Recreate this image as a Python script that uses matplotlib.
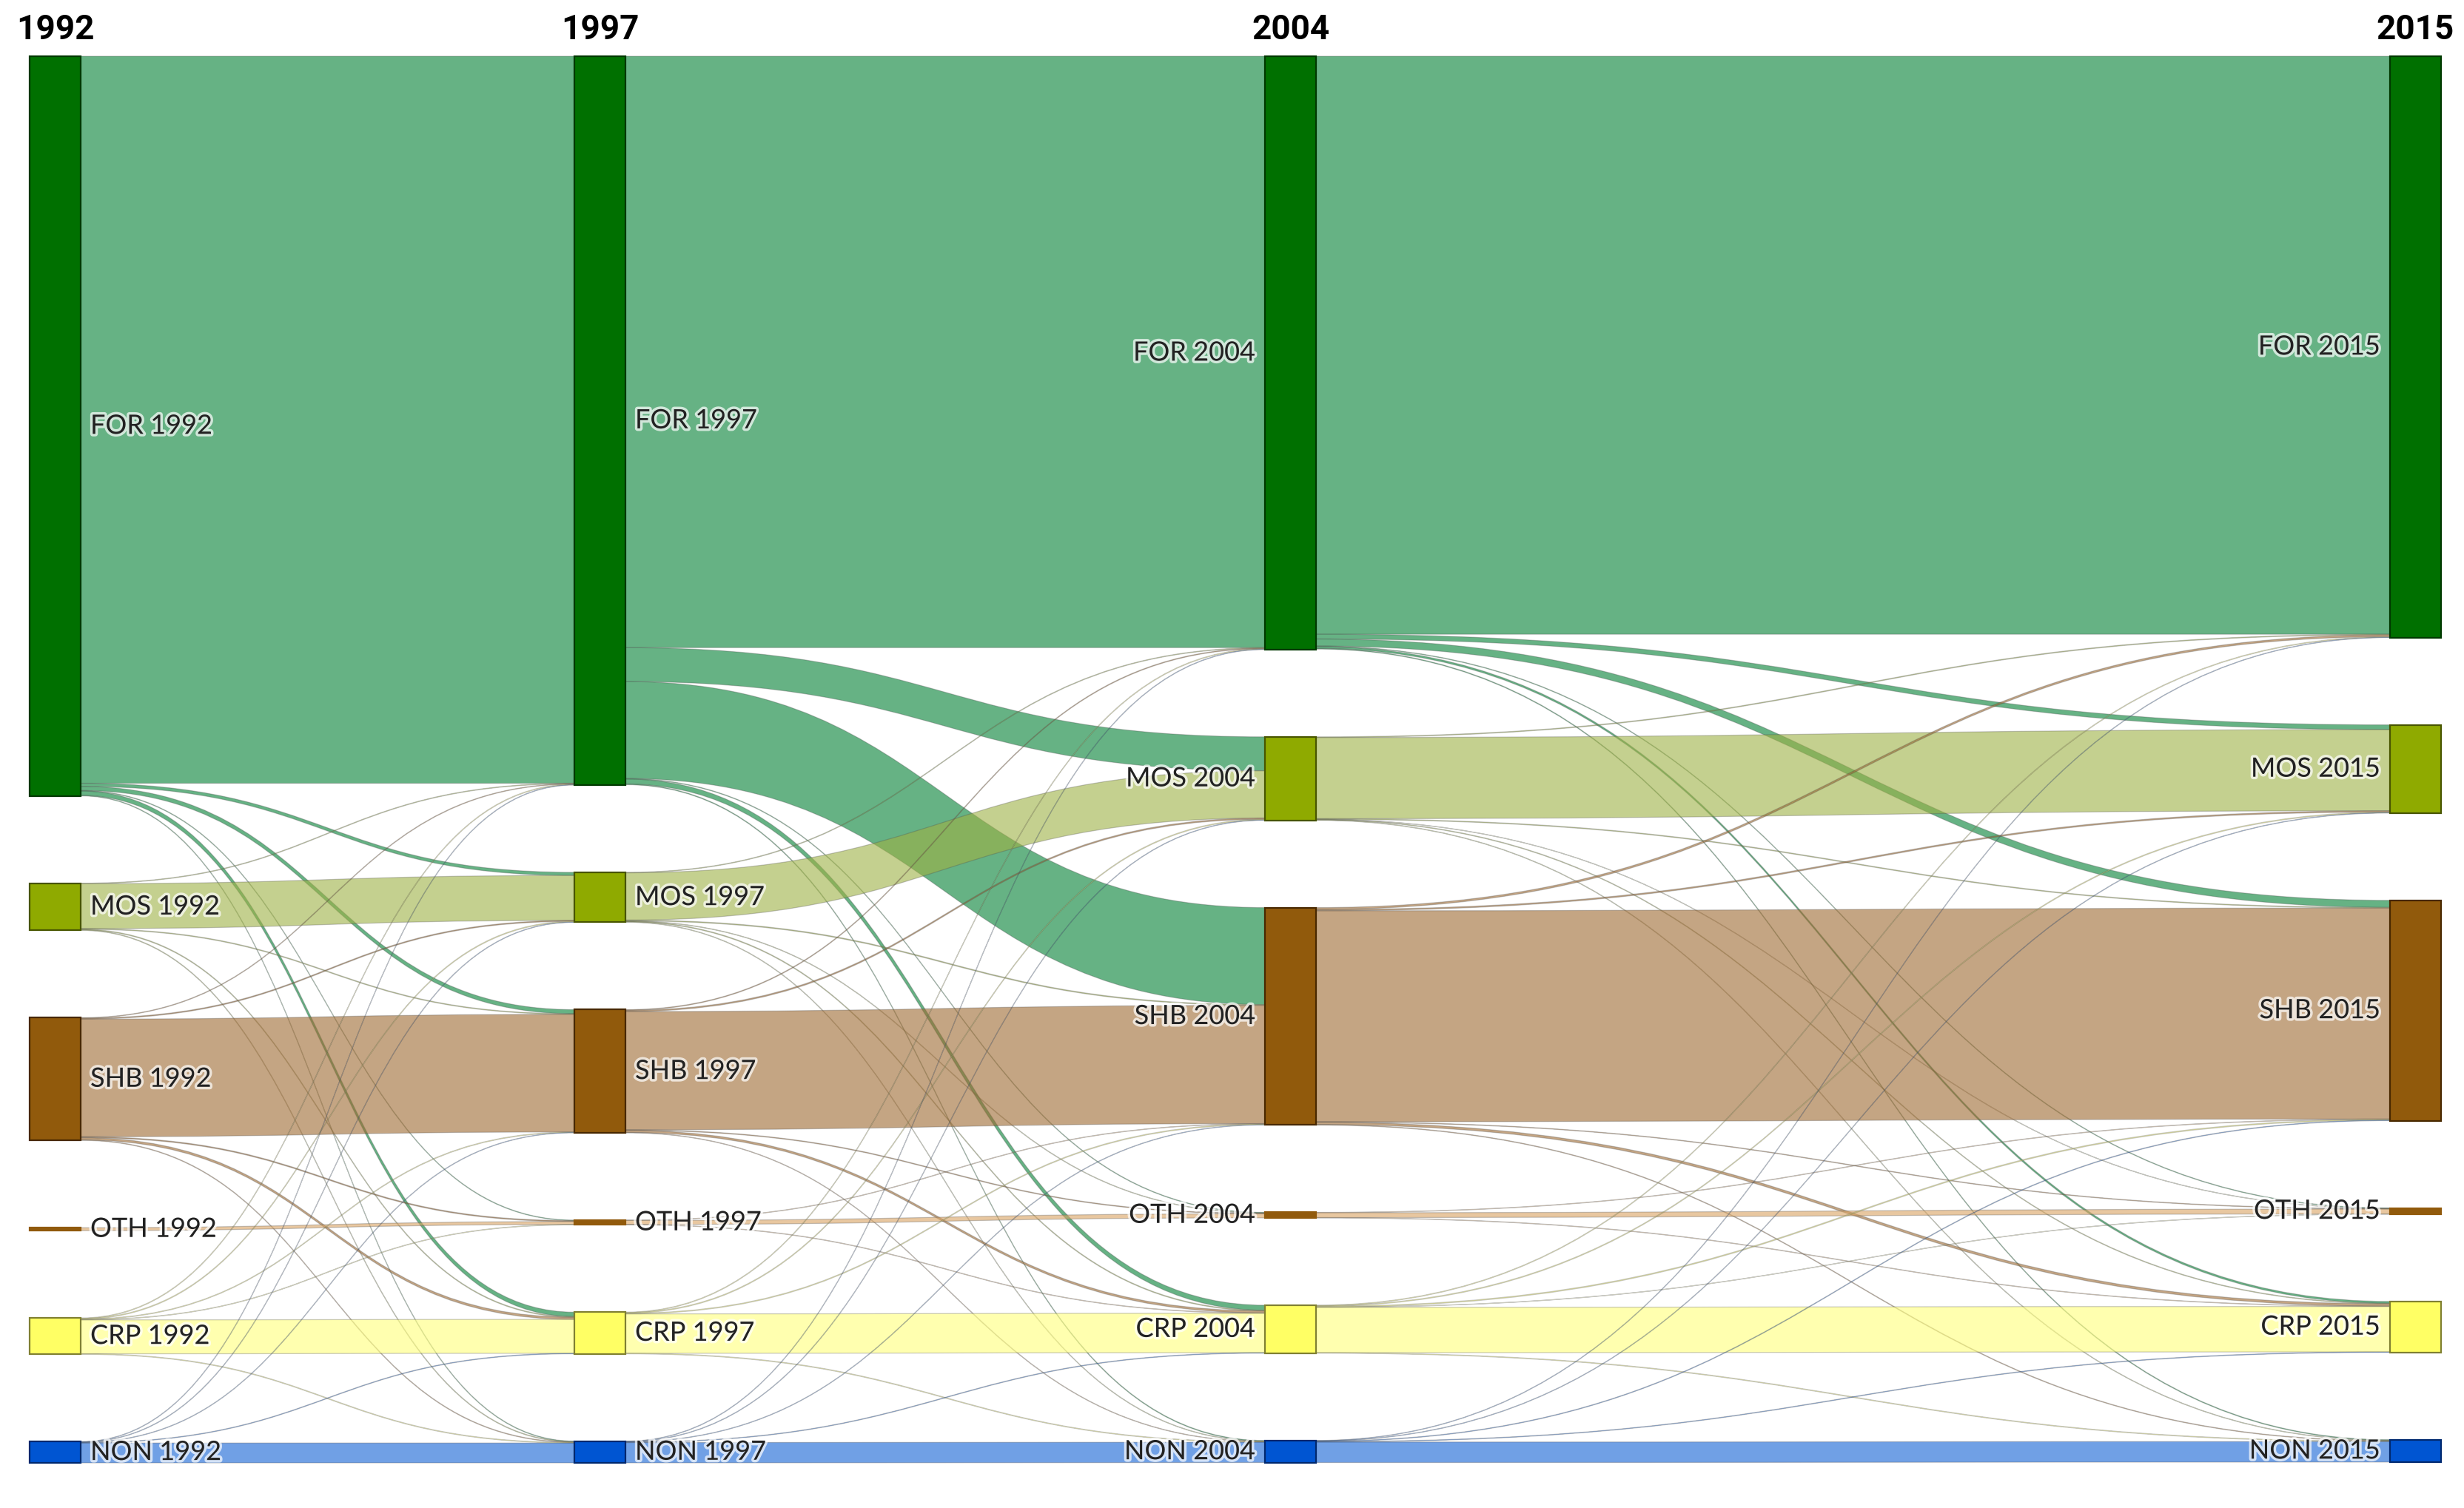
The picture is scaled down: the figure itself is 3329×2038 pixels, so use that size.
import numpy as np
import matplotlib.pyplot as plt
from matplotlib.path import Path
from matplotlib.patches import PathPatch, Rectangle
import matplotlib.patheffects as pe

years = ['1992', '1997', '2004', '2015']
classes = ['FOR', 'MOS', 'SHB', 'OTH', 'CRP', 'NON']

# land cover transitions, rows = class at start year, cols = class at end year
flow_92_97 = [
    [461.0, 2.0, 2.6, 0.3, 2.8, 0.3],
    [0.3, 28.5, 0.4, 0.0, 0.4, 0.3],
    [0.3, 0.6, 74.6, 0.6, 1.4, 0.3],
    [0.0, 0.0, 0.0, 1.9, 0.0, 0.0],
    [0.3, 0.4, 0.3, 0.2, 21.5, 0.3],
    [0.2, 0.2, 0.2, 0.0, 0.3, 12.6],
]
flow_97_04 = [
    [375.0, 21.5, 61.5, 0.3, 3.2, 0.4],
    [0.3, 30.0, 0.5, 0.2, 0.4, 0.2],
    [0.4, 0.8, 75.0, 0.4, 1.3, 0.2],
    [0.0, 0.0, 0.2, 2.6, 0.2, 0.0],
    [0.3, 0.4, 0.4, 0.0, 25.0, 0.3],
    [0.2, 0.2, 0.2, 0.0, 0.3, 12.9],
]
flow_04_15 = [
    [366.5, 3.0, 4.5, 0.3, 1.2, 0.4],
    [0.4, 51.5, 0.4, 0.1, 0.3, 0.2],
    [1.2, 0.8, 133.8, 0.3, 1.5, 0.3],
    [0.0, 0.0, 0.2, 3.1, 0.2, 0.0],
    [0.3, 0.4, 0.5, 0.1, 28.8, 0.3],
    [0.2, 0.2, 0.3, 0.0, 0.3, 13.0],
]
flows = [np.array(flow_92_97), np.array(flow_97_04), np.array(flow_04_15)]

node_colors = ['#007000', '#8faa00', '#915a0c', '#915a0c', '#ffff64', '#0055d2']
edge_colors = ['#003800', '#485500', '#482800', '#915a0c', '#808032', '#00286e']
link_colors = [(0/255, 128/255, 50/255, 0.6),
               (158/255, 177/255, 68/255, 0.6),
               (157/255, 105/255, 48/255, 0.6),
               (217/255, 163/255, 97/255, 0.6),
               (255/255, 255/255, 122/255, 0.6),
               (17/255, 97/255, 213/255, 0.6)]

W, H = 3329, 2038
fig = plt.figure(figsize=(W / 200, H / 200), dpi=200)
ax = fig.add_axes([0, 0, 1, 1])
ax.set_xlim(0, W)
ax.set_ylim(H, 0)
ax.axis('off')

col_x = [40, 776, 1709, 3229]
node_w = 69
top, bottom = 76, 1977
pad = 118

# node size = max(inflow, outflow), like plotly
ncol = len(years)
values = []
for c in range(ncol):
    v = np.zeros(len(classes))
    if c < ncol - 1:
        v = np.maximum(v, flows[c].sum(axis=1))
    if c > 0:
        v = np.maximum(v, flows[c - 1].sum(axis=0))
    values.append(v)

ky = (bottom - top - pad * (len(classes) - 1)) / max(v.sum() for v in values)

node_y = []
for v in values:
    y = top
    ys = []
    for val in v:
        ys.append(y)
        y += val * ky + pad
    node_y.append(np.array(ys))

# links
for c in range(ncol - 1):
    F = flows[c]
    x0 = col_x[c] + node_w
    x1 = col_x[c + 1]
    xm = (x0 + x1) / 2
    out_off = node_y[c].copy()
    in_off = node_y[c + 1].copy()
    for i in range(len(classes)):
        for j in range(len(classes)):
            f = F[i, j]
            if f <= 0:
                continue
            h = f * ky
            y0t, y0b = out_off[i], out_off[i] + h
            y1t, y1b = in_off[j], in_off[j] + h
            out_off[i] += h
            in_off[j] += h
            verts = [(x0, y0t), (xm, y0t), (xm, y1t), (x1, y1t),
                     (x1, y1b), (xm, y1b), (xm, y0b), (x0, y0b), (x0, y0t)]
            codes = [Path.MOVETO, Path.CURVE4, Path.CURVE4, Path.CURVE4,
                     Path.LINETO, Path.CURVE4, Path.CURVE4, Path.CURVE4, Path.CLOSEPOLY]
            ax.add_patch(PathPatch(Path(verts, codes), facecolor=link_colors[i],
                                   edgecolor=(0.3, 0.3, 0.3, 0.3), lw=0.45, zorder=1))

# nodes and labels
halo = [pe.withStroke(linewidth=2.5, foreground='white', alpha=0.7)]
for c in range(ncol):
    for k, name in enumerate(classes):
        y = node_y[c][k]
        h = values[c][k] * ky
        ax.add_patch(Rectangle((col_x[c], y), node_w, h, facecolor=node_colors[k],
                               edgecolor=edge_colors[k], lw=0.8, zorder=3))
        label = f'{name} {years[c]}'
        if c < 2:
            tx, ha = col_x[c] + node_w + 13, 'left'
        else:
            tx, ha = col_x[c] - 13, 'right'
        ax.text(tx, y + h / 2, label, ha=ha, va='center', fontsize=13,
                family=['Lato', 'DejaVu Sans'], color='#222222',
                path_effects=halo, zorder=4)
    ax.text(col_x[c] + node_w / 2, 53, years[c], ha='center', va='baseline',
            fontsize=16.5, fontweight='bold',
            family=['Roboto', 'DejaVu Sans'], color='black', zorder=4)

fig.savefig('out.png', dpi=200)
